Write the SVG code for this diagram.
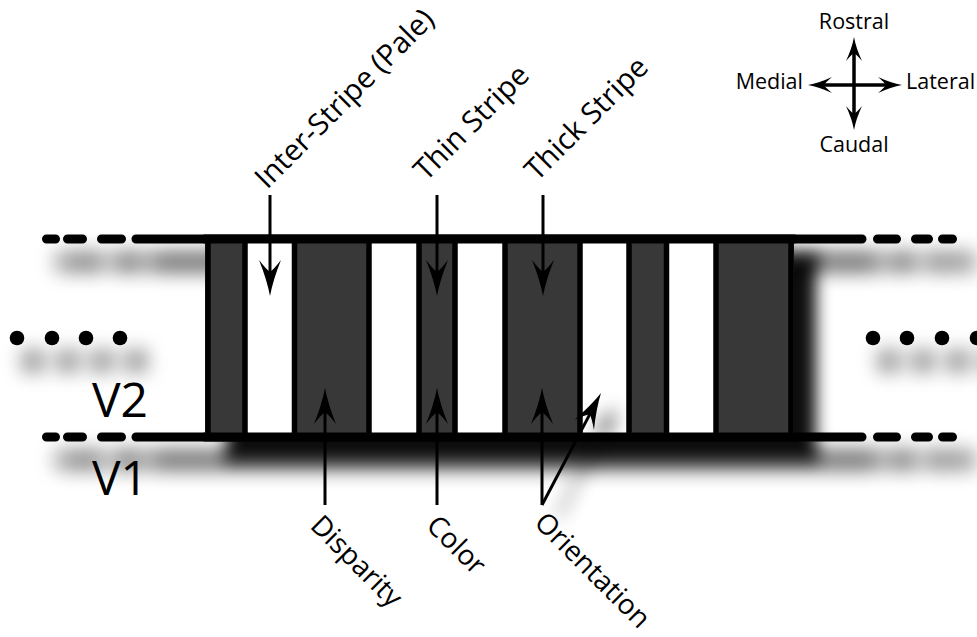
<svg xmlns="http://www.w3.org/2000/svg" width="977" height="637" viewBox="0 0 977 637">
<style>
.lbl{font-family:"Open Sans","Liberation Sans",sans-serif;fill:#000}
.big{font-size:29.5px}
.low{font-size:28px}
.cmp{font-size:21.5px}
.area{font-size:48px}
.ln{stroke:#000;stroke-width:9;stroke-linecap:round;fill:none}
.sep{stroke:#000;stroke-width:5.5;fill:none}
.con{stroke:#000;stroke-width:3;fill:none}
.dark{fill:#393939}
.pale{fill:#fff}
</style>
<defs>
<filter id="shs" filterUnits="userSpaceOnUse" x="-50" y="-50" width="1100" height="750">
<feGaussianBlur in="SourceAlpha" stdDeviation="8"/>
<feOffset dx="22" dy="20"/>
<feComponentTransfer><feFuncA type="linear" slope="0.95"/></feComponentTransfer>
<feMerge><feMergeNode/><feMergeNode in="SourceGraphic"/></feMerge>
</filter>
<filter id="shl" filterUnits="userSpaceOnUse" x="-50" y="-50" width="1100" height="750">
<feGaussianBlur in="SourceAlpha" stdDeviation="11"/>
<feOffset dx="16" dy="23"/>
<feComponentTransfer><feFuncA type="linear" slope="1.3"/></feComponentTransfer>
<feMerge><feMergeNode/><feMergeNode in="SourceGraphic"/></feMerge>
</filter>
<filter id="sha" filterUnits="userSpaceOnUse" x="-50" y="-50" width="1100" height="750">
<feGaussianBlur in="SourceAlpha" stdDeviation="9"/>
<feOffset dx="16" dy="12"/>
<feComponentTransfer><feFuncA type="linear" slope="0.7"/></feComponentTransfer>
<feMerge><feMergeNode/><feMergeNode in="SourceGraphic"/></feMerge>
</filter>
<marker id="ah" markerUnits="userSpaceOnUse" orient="auto" refX="-12" refY="0" overflow="visible" markerWidth="40" markerHeight="30">
<path d="M0,0 Q-16,-3 -36,-11 Q-27,-4 -24,0 Q-27,4 -36,11 Q-16,3 0,0Z" fill="#000"/>
</marker>
<marker id="as" markerUnits="userSpaceOnUse" orient="auto-start-reverse" refX="-8" refY="0" overflow="visible" markerWidth="30" markerHeight="20">
<path d="M0,0 Q-11,-2 -24,-8 Q-18,-3 -16,0 Q-18,3 -24,8 Q-11,2 0,0Z" fill="#000"/>
</marker>
</defs>
<rect width="977" height="637" fill="#fff"/>

<g id="borders" filter="url(#shl)">
<path class="ln" d="M46.5,239H55.5M67.5,239H82.5M101.5,239H121.5M877.5,239H896.5M915.5,239H928.5M942.5,239H952.5"/>
<path class="ln" d="M46.5,437H55.5M67.5,437H82.5M101.5,437H121.5M877.5,437H896.5M915.5,437H928.5M942.5,437H952.5"/>
<path class="ln" d="M136,239H862M136,437H862"/>
<g fill="#000">
<circle cx="17" cy="338" r="7.3"/><circle cx="52" cy="338" r="7.3"/><circle cx="86" cy="338" r="7.3"/><circle cx="120" cy="338" r="7.3"/>
<circle cx="873" cy="338" r="7.3"/><circle cx="907" cy="338" r="7.3"/><circle cx="942" cy="338" r="7.3"/><circle cx="977" cy="338" r="7.3"/>
</g>
</g>
<g id="stripes" filter="url(#shs)">
<rect class="dark" x="205" y="239" width="589" height="198"/>
<rect class="pale" x="245" y="239" width="49.5" height="198"/>
<rect class="pale" x="369" y="239" width="50" height="198"/>
<rect class="pale" x="455" y="239" width="50" height="198"/>
<rect class="pale" x="580" y="239" width="49" height="198"/>
<rect class="pale" x="666.5" y="239" width="49.5" height="198"/>
<path class="sep" d="M208,239V437M245,239V437M294.5,239V437M369,239V437M419,239V437M455,239V437M505,239V437M580,239V437M629,239V437M666.5,239V437M716,239V437M791,239V437"/>
<path class="ln" d="M205,239H794M205,437H794"/>
</g>

<g id="connectors">
<path class="con" marker-end="url(#ah)" d="M270,195V284"/>
<path class="con" marker-end="url(#ah)" d="M437,195V284"/>
<path class="con" marker-end="url(#ah)" d="M543,195V284"/>
<path class="con" marker-end="url(#ah)" d="M325,505V400"/>
<path class="con" marker-end="url(#ah)" d="M437,505V400"/>
<path class="con" marker-end="url(#ah)" d="M542,505V400"/>
<path class="con" marker-end="url(#ah)" filter="url(#sha)" d="M542,505L595.4,403.6"/>
</g>

<g id="label-interstripe"><text class="lbl big" transform="translate(267,190) rotate(-45)">Inter-Stripe (Pale)</text></g>
<g id="label-thin"><text class="lbl big" transform="translate(426,182) rotate(-45)">Thin Stripe</text></g>
<g id="label-thick"><text class="lbl big" transform="translate(537,182) rotate(-45)">Thick Stripe</text></g>
<g id="label-disparity"><text class="lbl low" transform="translate(309,527) rotate(45)">Disparity</text></g>
<g id="label-color"><text class="lbl low" transform="translate(425,527) rotate(45)">Color</text></g>
<g id="label-orientation"><text class="lbl low" transform="translate(533,524) rotate(45)">Orientation</text></g>
<g id="label-v2"><text class="lbl area" x="92" y="417">V2</text></g>
<g id="label-v1"><text class="lbl area" x="92" y="495">V1</text></g>

<g id="compass">
<path class="con" style="stroke-width:3.5" marker-start="url(#as)" marker-end="url(#as)" d="M854,45V122"/>
<path class="con" style="stroke-width:3.5" marker-start="url(#as)" marker-end="url(#as)" d="M816,85H894"/>
<text class="lbl cmp" x="854" y="29" text-anchor="middle">Rostral</text>
<text class="lbl cmp" x="803" y="89" text-anchor="end">Medial</text>
<text class="lbl cmp" x="906" y="89">Lateral</text>
<text class="lbl cmp" x="854" y="152" text-anchor="middle">Caudal</text>
</g>
</svg>
